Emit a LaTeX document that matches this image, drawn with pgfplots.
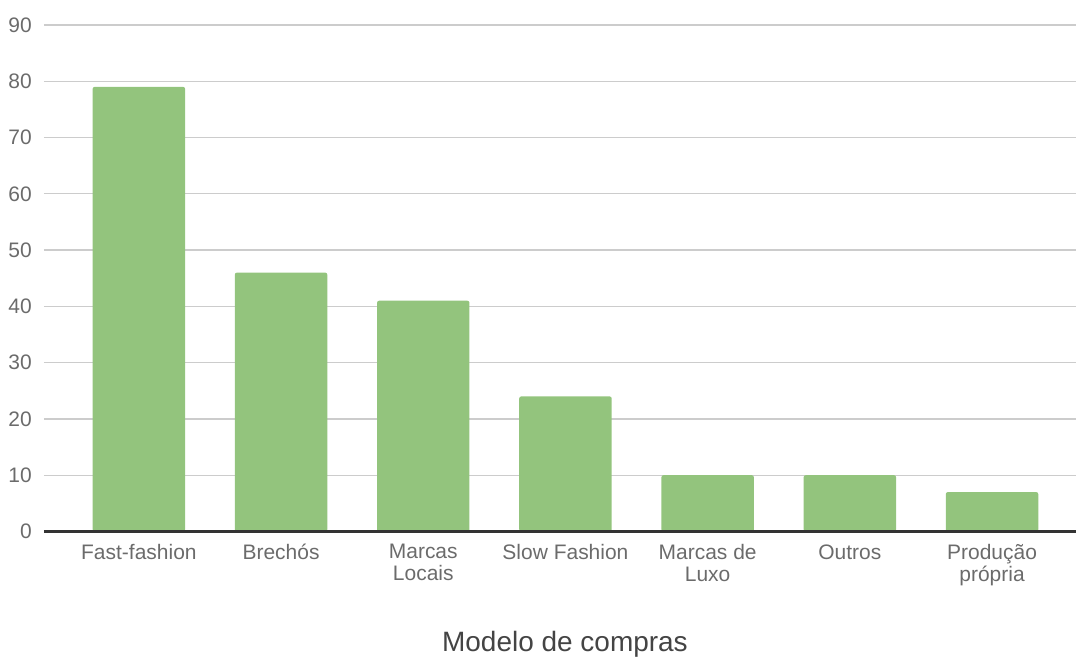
\documentclass[border=0pt]{standalone}
\usepackage{pgfplots}
\pgfplotsset{compat=1.18}
\usepackage{fontspec}
\setmainfont{Liberation Sans}

\definecolor{barGreen}{HTML}{93C47D}
\definecolor{gridGray}{HTML}{CCCCCC}
\definecolor{tickGray}{HTML}{6B6B6B}
\definecolor{titleGray}{HTML}{444444}
\definecolor{baseDark}{HTML}{333333}

\begin{document}
\begin{tikzpicture}
\begin{axis}[
  scale only axis,
  width=774.75pt, height=380.25pt,
  at={(0,0)}, anchor=south west,
  xmin=-0.6675, xmax=6.59,
  ymin=0, ymax=90,
  ytick={0,10,...,90},
  xtick={0,...,6},
  xticklabels={Fast-fashion, Brechós, {Marcas\\Locais}, Slow Fashion, {Marcas de\\Luxo}, Outros, {Produção\\própria}},
  major tick length=0pt,
  axis line style={draw=none},
  ymajorgrids,
  grid style={gridGray, line width=0.9pt},
  /pgf/number format/assume math mode=true,
  yticklabel style={font=\fontsize{15.75}{18}\selectfont, text=tickGray, inner sep=0pt, anchor=east},
  yticklabel shift=9pt,
  xticklabel style={font=\fontsize{15.75}{16.5}\selectfont, text=tickGray, inner sep=0pt, anchor=north, align=center},
  xticklabel shift=9.6pt,
  xlabel={Modelo de compras},
  every axis x label/.style={at={(axis description cs:0.5,0)}, anchor=base, yshift=-89.8pt, xshift=3.75pt,
    font=\fontsize{21}{24}\selectfont, text=titleGray},
  clip=false,
]
\addplot[ybar, bar width=0.65, fill=barGreen, draw=none, rounded corners=1.5pt]
  coordinates {(0,79) (1,46) (2,41) (3,24) (4,10) (5,10) (6,7)};
% baseline along y = 0
\addplot[baseDark, line width=1.6pt, mark=none] coordinates {(-0.6675,0) (6.59,0)};
\end{axis}
\useasboundingbox (-33pt,-93pt) rectangle (774.75pt,399pt);
\end{tikzpicture}
\end{document}
